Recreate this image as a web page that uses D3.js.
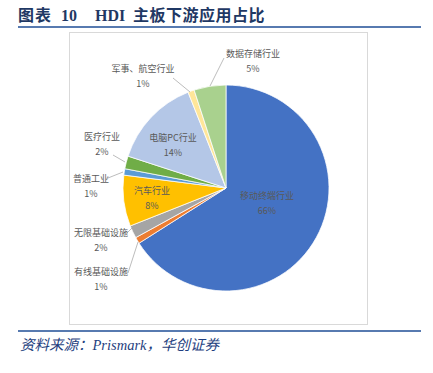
<!DOCTYPE html>
<html>
<head>
<meta charset="utf-8">
<script src="https://cdn.jsdelivr.net/npm/d3@7"></script>
<style>
  body { margin: 0; background: #fff; }
  svg { display: block; }
</style>
</head>
<body>
<svg id="chart" width="433" height="373"></svg>
<script>
// data
var categories = ["移动终端行业", "有线基础设施", "无限基础设施", "汽车行业", "普通工业", "医疗行业", "电脑PC行业", "军事、航空行业", "数据存储行业"];
var shares = [66, 1, 2, 8, 1, 2, 14, 1, 5];
var colors = ["#4472c4", "#ed7d31", "#a5a5a5", "#ffc000", "#5b9bd5", "#70ad47", "#b4c7e7", "#ffe699", "#a9d18e"];

// label placement (centre of first text line, relative to pie centre), leader lines for outside labels
var labelPos = {
  "移动终端行业": { dx: 41, dy: 7 },
  "汽车行业": { dx: -74, dy: 2 },
  "电脑PC行业": { dx: -53, dy: -51 },
  "医疗行业": { dx: -124, dy: -52 },
  "普通工业": { dx: -135, dy: -10 },
  "无限基础设施": { dx: -125, dy: 44 },
  "有线基础设施": { dx: -125, dy: 83 },
  "军事、航空行业": { dx: -83, dy: -120 },
  "数据存储行业": { dx: 27, dy: -135 }
};
var leaders = {
  "数据存储行业": [[-2, -130], [-16, -102]],
  "军事、航空行业": [[-53, -110], [-36, -96]],
  "医疗行业": [[-113, -33], [-101, -26]],
  "普通工业": [[-118, -10], [-103, -16]],
  "无限基础设施": [[-99, 45], [-93, 39]],
  "有线基础设施": [[-98, 85], [-88, 54]]
};

var svg = d3.select("#chart");

// title
var title = svg.append("text")
    .attr("y", 21)
    .attr("fill", "#1f3864")
    .attr("font-weight", "bold")
    .attr("font-size", 16)
    .attr("font-family", "'Liberation Serif', 'Noto Sans CJK SC', serif");
title.append("tspan").attr("x", 18).attr("font-family", "'Noto Sans CJK SC'").attr("letter-spacing", 1).text("图表");
title.append("tspan").attr("x", 61).text("10");
title.append("tspan").attr("x", 95).text("HDI");
title.append("tspan").attr("x", 133).attr("font-family", "'Noto Sans CJK SC'").attr("letter-spacing", 0.5).text("主板下游应用占比");

svg.append("line")
    .attr("x1", 18).attr("x2", 421)
    .attr("y1", 27).attr("y2", 27)
    .attr("stroke", "#1f4e96").attr("stroke-width", 1.6);

// chart frame
svg.append("rect")
    .attr("x", 69.5).attr("y", 32.5)
    .attr("width", 298).attr("height", 292)
    .attr("fill", "#fff")
    .attr("stroke", "#d9d9d9");

var cx = 226, cy = 188, radius = 103;
var g = svg.append("g").attr("transform", "translate(" + cx + "," + cy + ")");

var data = categories.map(function(c, i) { return { name: c, value: shares[i], color: colors[i] }; });

var pie = d3.pie().sort(null).value(function(d) { return d.value; });
var arc = d3.arc().innerRadius(0).outerRadius(radius);

g.selectAll("path.slice")
  .data(pie(data))
  .enter().append("path")
    .attr("class", "slice")
    .attr("d", arc)
    .attr("fill", function(d) { return d.data.color; })
    .attr("stroke", "#fff")
    .attr("stroke-width", 0.75);

// leader lines
Object.keys(leaders).forEach(function(k) {
  g.append("path")
    .attr("d", d3.line()(leaders[k]))
    .attr("fill", "none")
    .attr("stroke", "#a6a6a6")
    .attr("stroke-width", 0.75);
});

// labels
var labels = g.selectAll("g.lbl")
  .data(data)
  .enter().append("g")
    .attr("class", "lbl")
    .attr("font-family", "'Noto Sans CJK SC', sans-serif")
    .attr("font-size", 9)
    .attr("fill", "#595959");

labels.append("text")
    .attr("x", function(d) { return labelPos[d.name].dx; })
    .attr("y", function(d) { return labelPos[d.name].dy + 3.5; })
    .attr("text-anchor", "middle")
    .text(function(d) { return d.name; });

labels.append("text")
    .attr("x", function(d) { return labelPos[d.name].dx; })
    .attr("y", function(d) { return labelPos[d.name].dy + 18.5; })
    .attr("text-anchor", "middle")
    .text(function(d) { return d.value + "%"; });

// source
svg.append("line")
    .attr("x1", 18).attr("x2", 421)
    .attr("y1", 331).attr("y2", 331)
    .attr("stroke", "#1f4e96").attr("stroke-width", 1.6);

var src = svg.append("text")
    .attr("x", 20).attr("y", 350)
    .attr("fill", "#1f3f80")
    .attr("font-size", 14.5)
    .attr("font-style", "italic")
    .attr("font-family", "'Liberation Serif', 'Noto Sans CJK SC', serif");
src.append("tspan").attr("font-family", "'Noto Sans CJK SC'").text("资料来源：");
src.append("tspan").text("Prismark");
src.append("tspan").attr("font-family", "'Noto Sans CJK SC'").text("，华创证券");
</script>
</body>
</html>
